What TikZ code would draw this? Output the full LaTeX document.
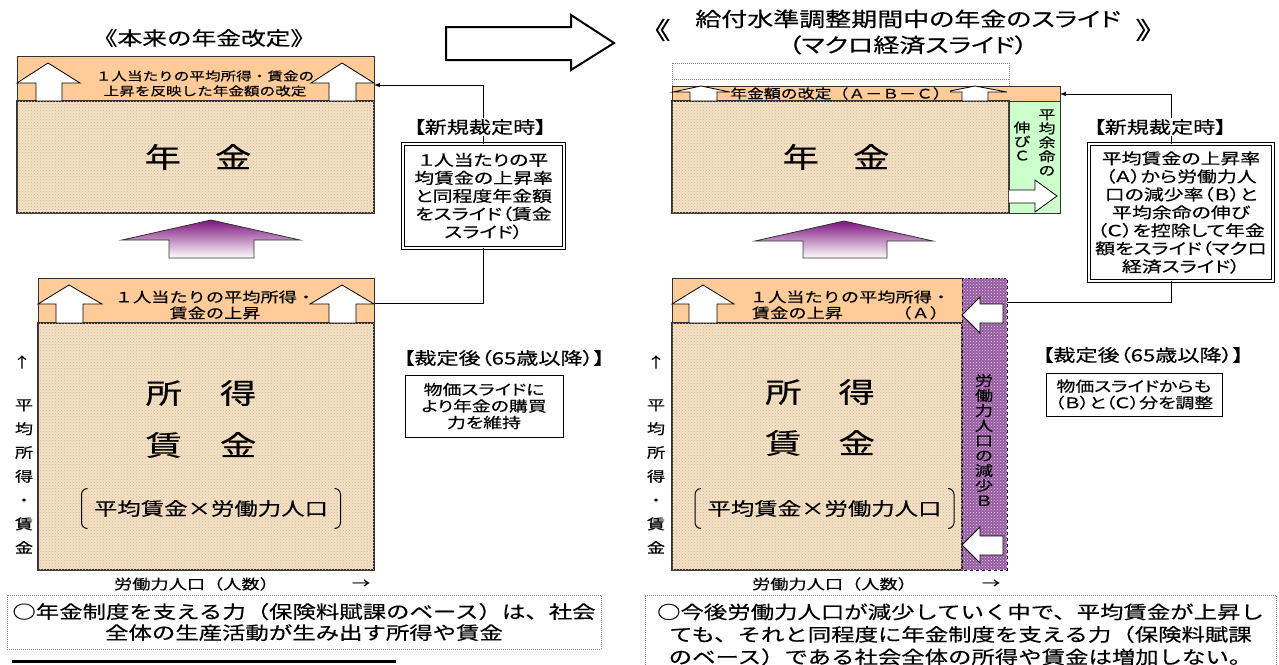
\documentclass[tikz,border=0pt]{standalone}
\usepackage{fontspec}
\setmainfont{Noto Sans CJK JP}[FakeStretch=1.3,FakeBold=0.4]
\newfontfamily\pj{Noto Sans CJK JP}[FakeStretch=1.3,FakeBold=0.4,RawFeature=+palt]
\usepackage{tikz}
\definecolor{stripcol}{RGB}{255,204,153}
\definecolor{tancol}{RGB}{245,225,198}
\definecolor{tandark}{RGB}{214,184,148}
\definecolor{greencol}{RGB}{204,255,204}
\definecolor{purplecol}{RGB}{150,90,160}
\definecolor{arrowtop}{RGB}{125,20,125}
\definecolor{edgecol}{RGB}{50,50,50}
\tikzset{
    strip/.style={fill=stripcol,draw=edgecol,line width=1pt},
    body/.style={fill=tancol,draw=edgecol,line width=1.2pt,postaction={pattern=crosshatch dots,pattern color=tandark}},
    whitearrow/.style={fill=white,draw=black,line width=0.8pt},
    bigchar/.style={font=\fontsize{28}{30}\selectfont},
    heading/.style={font=\fontsize{19}{26}\selectfont,align=center},
    striptext/.style={font=\fontsize{12}{15}\selectfont,align=center},
    gaintext/.style={font=\fontsize{14}{16}\selectfont,align=center},
    tag/.style={font=\pj\fontsize{17}{20}\selectfont,fill=white,inner sep=1pt},
    slidebox/.style={draw=black,double,double distance=1.5pt,line width=0.8pt,fill=white,align=center,font=\pj\fontsize{15.3}{18}\selectfont},
    note/.style={draw=black,line width=1pt,fill=white,align=center,font=\pj\fontsize{14.5}{16.5}\selectfont},
    axistext/.style={font=\fontsize{14}{23.8}\selectfont,align=center},
    vtext/.style={font=\fontsize{13}{14}\selectfont,align=center,inner sep=0pt},
    product/.style={font=\fontsize{18}{20}\selectfont,minimum height=39pt,inner xsep=12pt},
    summary/.style={draw=gray,dash pattern=on 1pt off 1pt,line width=0.8pt,align=center,font=\fontsize{18}{21}\selectfont},
}
\usetikzlibrary{positioning,patterns}

\begin{document}
\begin{tikzpicture}[x=1pt,y=-1pt,>=latex,line width=1pt]
\useasboundingbox (0,0) rectangle (1279,664);
\node[heading] (Ltitle) at (204,38) {《本来の年金改定》};
\draw[strip] (17,56) rectangle (374,101);
\draw[body] (17,101) rectangle (374,213);
\draw[whitearrow] (36,101) -- (36,83) -- (17,83) -- (48,63) -- (80,83) -- (62,83) -- (62,101) -- cycle;
\draw[whitearrow] (329,101) -- (329,83) -- (311,83) -- (342,63) -- (374,83) -- (356,83) -- (356,101) -- cycle;
\node[striptext] (Lrise) at (205,83.5) {１人当たりの平均所得・賃金の\\上昇を反映した年金額の改定};
\node[bigchar] (Lpen) at (198,157) {年\hspace{34pt}金};
\draw[line width=2pt,fill=white] (446,27) -- (571,27) -- (571,15) -- (614,43) -- (571,70) -- (571,60) -- (446,60) -- cycle;
\node[slidebox,minimum width=161pt,minimum height=104pt] (Lslide) at (483.5,196) {１人当たりの平\\均賃金の上昇率\\と同程度年金額\\をスライド（賃金\\スライド）};
\coordinate (Lin) at (374,85);
\coordinate (Lout) at (374,303);
\draw[->] (Lslide.north) |- (Lin);
\draw (Lslide.south) |- (Lout);
\node[tag] (Lnew) at (480,127) {【新規裁定時】};
\shadedraw[top color=arrowtop,bottom color=white,draw=edgecol,line width=0.8pt] (211,220) -- (300,240) -- (254,240) -- (254,258) -- (169,258) -- (169,240) -- (122,240) -- cycle;
\draw[strip] (38,278) rectangle (374,323);
\draw[body] (38,323) rectangle (374,570);
\draw[whitearrow] (56,323) -- (56,304) -- (38,304) -- (69,285) -- (102,304) -- (83,304) -- (83,323) -- cycle;
\draw[whitearrow] (329,323) -- (329,304) -- (310,304) -- (342,285) -- (374,304) -- (356,304) -- (356,323) -- cycle;
\node[gaintext] (Lgain) at (215,305) {１人当たりの平均所得・\\賃金の上昇};
\node[bigchar] (Linc) at (201,393) {所\hspace{38pt}得};
\node[bigchar] (Lwage) at (201,445) {賃\hspace{38pt}金};
\node[product] (Lprod) at (211,508.5) {平均賃金×労働力人口};
\draw[rounded corners=6pt] ([xshift=6pt]Lprod.north west) -- (Lprod.north west) -- (Lprod.south west) -- ([xshift=6pt]Lprod.south west);
\draw[rounded corners=6pt] ([xshift=-6pt]Lprod.north east) -- (Lprod.north east) -- (Lprod.south east) -- ([xshift=-6pt]Lprod.south east);
\node[axistext] (Lup) at (22,362) {↑};
\node[axistext] (Lyax) at (24,476.5) {平\\均\\所\\得\\・\\賃\\金};
\node[axistext] (Lxax) at (196,584) {労働力人口（人数）};
\node[axistext] (Lxarr) at (361,584) {→};
\node[tag] (Lafter) at (504,358) {【裁定後（65歳以降）】};
\node[note,minimum width=158pt,minimum height=62pt] (Lkeep) at (484,406) {物価スライドに\\より年金の購買\\力を維持};
\node[summary,minimum width=594pt,minimum height=54pt] (Lsum) at (304,622) {○年金制度を支える力（保険料賦課のベース）は、社会\\全体の生産活動が生み出す所得や賃金};
\draw[line width=3pt] (12,661.5) -- (396,661.5);

\node[heading,font=\fontsize{24}{26}\selectfont] (Ropen) at (655,30) {《};
\node[heading,font=\pj\fontsize{20}{26}\selectfont] (Rtitle) at (908,32) {給付水準調整期間中の年金のスライド\\（マクロ経済スライド）};
\node[heading,font=\fontsize{24}{26}\selectfont] (Rclose) at (1151,30) {》};
\draw[gray,dash pattern=on 1pt off 1pt,line width=0.8pt] (672,63) rectangle (1009,86);
\draw[gray,dash pattern=on 1pt off 1pt,line width=0.8pt] (672,79) -- (1009,79);
\draw[strip] (672,86) rectangle (1060,101);
\draw[body] (672,101) rectangle (1009,213);
\draw[fill=greencol,draw=edgecol] (1009,101) rectangle (1060,213);
\draw[whitearrow] (690,101) -- (690,92) -- (673,92) -- (701,86) -- (730,92) -- (717,92) -- (717,101) -- cycle;
\draw[whitearrow] (962,101) -- (962,92) -- (945,92) -- (975,86) -- (1007,92) -- (988,92) -- (988,101) -- cycle;
\node[striptext,font=\fontsize{13}{15}\selectfont,fill=stripcol,inner sep=0.5pt] (Rrev) at (840,93.5) {年金額の改定（Ａ－Ｂ－Ｃ）};
\node[bigchar] (Rpen) at (836,157) {年\hspace{34pt}金};
\node[vtext] (Rlife) at (1047,142.5) {平\\均\\余\\命\\の};
\node[vtext] (Rgrow) at (1022,141) {伸\\び\\Ｃ};
\draw[whitearrow] (1009,190) -- (1035,190) -- (1035,180) -- (1057,196) -- (1035,212) -- (1035,203) -- (1009,203);
\node[slidebox,minimum width=184pt,minimum height=137pt] (Rslide) at (1181,212.5) {平均賃金の上昇率\\（Ａ）から労働力人\\口の減少率（Ｂ）と\\平均余命の伸び\\（Ｃ）を控除して年金\\額をスライド（マクロ\\経済スライド）};
\coordinate (Rin) at (1060,94);
\coordinate (Rout) at (1007,302);
\draw[->] ([xshift=-10pt]Rslide.north) |- (Rin);
\draw ([xshift=-10pt]Rslide.south) |- (Rout);
\node[tag] (Rnew) at (1160,127) {【新規裁定時】};
\shadedraw[top color=arrowtop,bottom color=white,draw=edgecol,line width=0.8pt] (844,221) -- (933,241) -- (887,241) -- (887,258) -- (803,258) -- (803,241) -- (755,241) -- cycle;
\draw[strip] (672,278) rectangle (962,323);
\draw[body] (672,323) rectangle (962,570);
\draw[fill=purplecol,draw=black,dashed,postaction={pattern=crosshatch dots,pattern color=white!75!purplecol}] (962,278) rectangle (1007,570);
\draw[whitearrow] (689,323) -- (689,304) -- (672,304) -- (703,285) -- (734,304) -- (717,304) -- (717,323) -- cycle;
\node[gaintext] (Rgain) at (850,305) {１人当たりの平均所得・\\\makebox[196pt]{賃金の上昇\hfill（Ａ）}};
\draw[whitearrow] (1003,304) -- (980,304) -- (980,297) -- (962,315) -- (980,333) -- (980,323) -- (1003,323) -- cycle;
\draw[whitearrow] (1003,536) -- (980,536) -- (980,527) -- (962,545) -- (980,563) -- (980,555) -- (1003,555) -- cycle;
\node[vtext,font=\fontsize{14}{15}\selectfont] (Rdrop) at (984,440) {労\\働\\力\\人\\口\\の\\減\\少\\Ｂ};
\node[bigchar] (Rinc) at (820,392) {所\hspace{37pt}得};
\node[bigchar] (Rwage) at (820,443) {賃\hspace{37pt}金};
\node[product] (Rprod) at (824.5,508.5) {平均賃金×労働力人口};
\draw[rounded corners=6pt] ([xshift=6pt]Rprod.north west) -- (Rprod.north west) -- (Rprod.south west) -- ([xshift=6pt]Rprod.south west);
\draw[rounded corners=6pt] ([xshift=-6pt]Rprod.north east) -- (Rprod.north east) -- (Rprod.south east) -- ([xshift=-6pt]Rprod.south east);
\node[axistext] (Rup) at (656,362) {↑};
\node[axistext] (Ryax) at (656,476.5) {平\\均\\所\\得\\・\\賃\\金};
\node[axistext] (Rxax) at (834,584) {労働力人口（人数）};
\node[axistext] (Rxarr) at (991,584) {→};
\node[tag] (Rafter) at (1143,355) {【裁定後（65歳以降）】};
\node[note,minimum width=176pt,minimum height=43pt] (Radj) at (1134,394.5) {物価スライドからも\\（Ｂ）と（Ｃ）分を調整};
\node[summary,minimum width=631pt,minimum height=79pt,font=\fontsize{18}{22.5}\selectfont] (Rsum) at (960.5,634.5) {○今後労働力人口が減少していく中で、平均賃金が上昇し\\ても、それと同程度に年金制度を支える力（保険料賦課\\のベース）である社会全体の所得や賃金は増加しない。};
\end{tikzpicture}
\end{document}
